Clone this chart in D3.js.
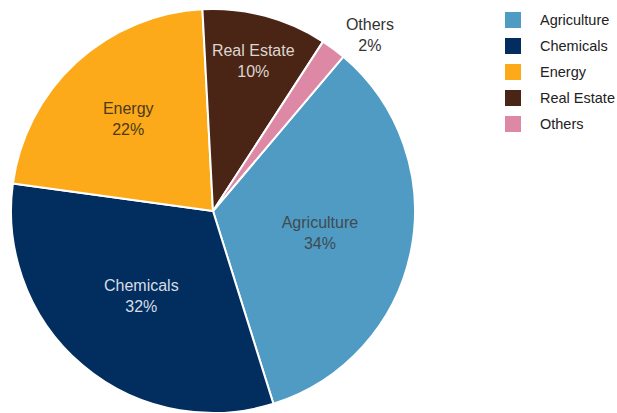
<!DOCTYPE html>
<html>
<head>
<meta charset="utf-8">
<script src="https://cdn.jsdelivr.net/npm/d3@7"></script>
<style>
  html, body { margin: 0; padding: 0; background: #fff; }
  svg { display: block; font-family: "Liberation Sans", Arial, sans-serif; }
</style>
</head>
<body>
<svg id="chart" width="617" height="413"></svg>
<script>
// Sector shares (percent)
const categories = ["Agriculture", "Chemicals", "Energy", "Real Estate", "Others"];
const shares = [34, 32, 22, 10, 2];
const colors = ["#4f9bc4", "#012d5f", "#fdaa1a", "#4a2515", "#dd89a6"];
const labelColors = ["#3f4a52", "#d8dde6", "#4a3a1a", "#ddd5d0", "#333333"];

// Label placement: fraction of radius from the centre, plus angular nudge (degrees)
const labelRadius = [0.54, 0.55, 0.62, 0.77, 1.17];
const labelNudge = [0, 0, 0, 0, 5];

const svg = d3.select("#chart");
const cx = 213, cy = 211, R = 202;
const startDeg = 40.2;

const pie = d3.pie().sort(null).value(d => d.value)
  .startAngle(startDeg * Math.PI / 180)
  .endAngle((startDeg + 360) * Math.PI / 180);

const data = categories.map((c, i) => ({ name: c, value: shares[i], i }));
const arcs = pie(data);

const arc = d3.arc().innerRadius(0).outerRadius(R);
const g = svg.append("g").attr("transform", `translate(${cx},${cy})`);

g.selectAll("path.slice").data(arcs).join("path")
  .attr("class", "slice")
  .attr("d", arc)
  .attr("fill", d => colors[d.data.i])
  .attr("stroke", "#fff")
  .attr("stroke-width", 2)
  .attr("stroke-linejoin", "round");

// Slice labels: name and percentage on two lines
const labels = g.selectAll("g.lbl").data(arcs).join("g")
  .attr("class", "lbl")
  .attr("transform", d => {
    const a = (d.startAngle + d.endAngle) / 2 + labelNudge[d.data.i] * Math.PI / 180;
    const r = R * labelRadius[d.data.i];
    return `translate(${r * Math.sin(a)},${-r * Math.cos(a)})`;
  });

labels.append("text")
  .attr("text-anchor", "middle")
  .attr("font-size", 16)
  .attr("fill", d => labelColors[d.data.i])
  .selectAll("tspan")
  .data(d => [d.data.name, d.data.value + "%"])
  .join("tspan")
  .attr("x", 0)
  .attr("y", (t, k) => k === 0 ? -4.5 : 16.5)
  .text(t => t);

// Legend
const legend = svg.append("g").attr("transform", "translate(505,12)");
const rowH = 26;
const items = legend.selectAll("g").data(categories).join("g")
  .attr("transform", (d, i) => `translate(0,${i * rowH})`);
items.append("rect")
  .attr("width", 16).attr("height", 16)
  .attr("fill", (d, i) => colors[i]);
items.append("text")
  .attr("x", 35).attr("y", 13)
  .attr("font-size", 14.5)
  .attr("fill", "#222")
  .text(d => d);
</script>
</body>
</html>
